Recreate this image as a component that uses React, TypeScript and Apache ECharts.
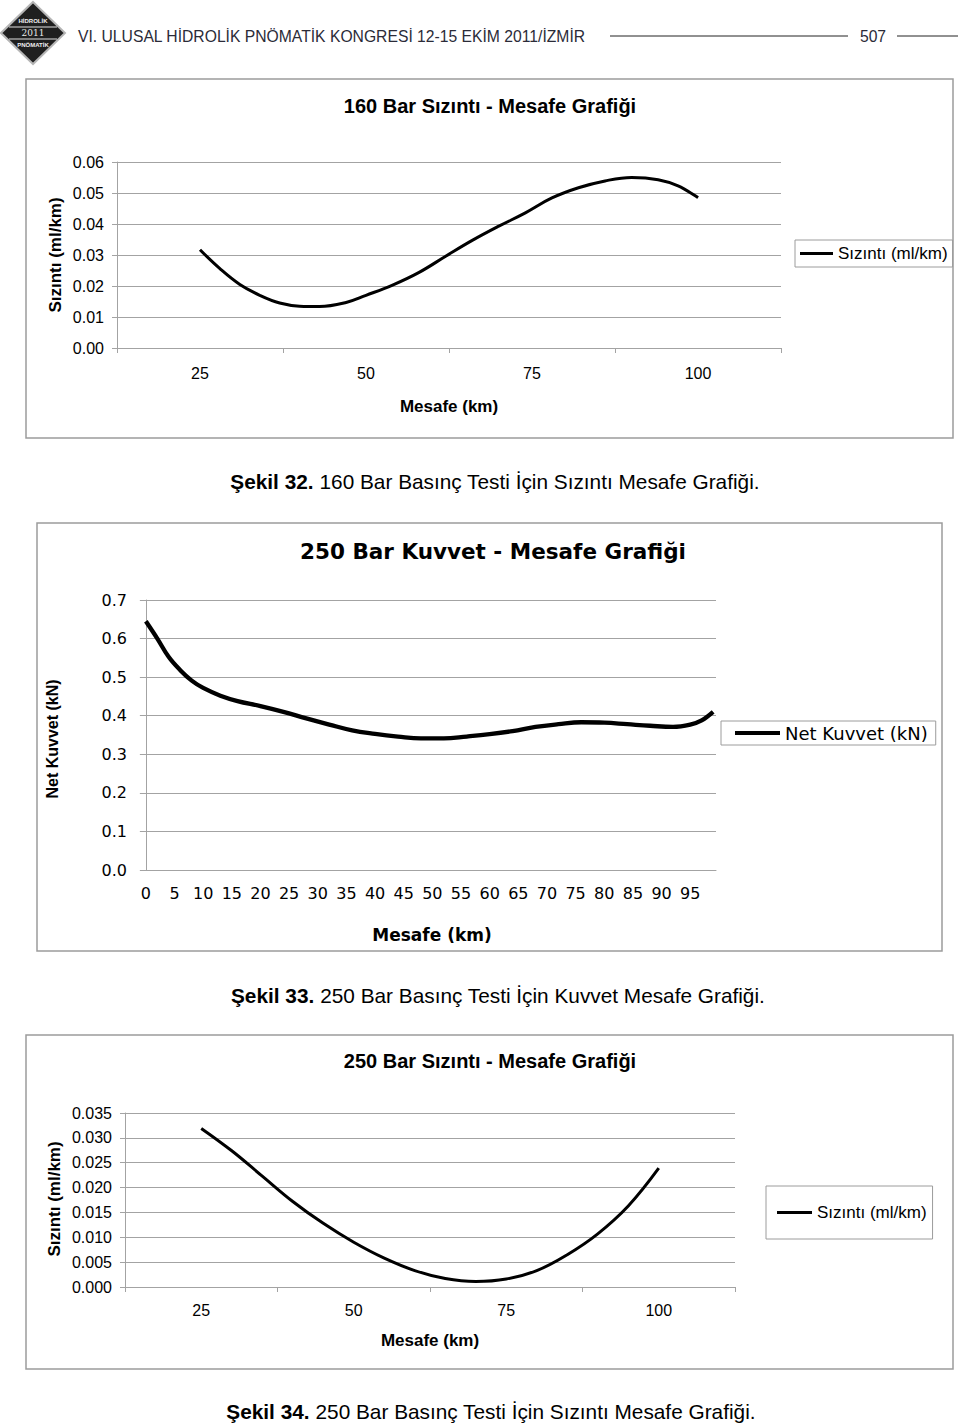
import { useEffect, useRef } from "react";
import * as echarts from "echarts";

// ---- Chart 1: 160 Bar Sızıntı - Mesafe ----
const mesafe160 = [25, 28, 31, 34, 37, 40, 43, 47, 50, 54, 58, 62, 66, 70, 74, 78, 82, 86, 90, 94, 97, 100];
const sizinti160 = [0.0317, 0.0256, 0.0205, 0.017, 0.0145, 0.0135, 0.0134, 0.0147, 0.017, 0.0203, 0.0244, 0.0296, 0.0347, 0.0393, 0.0436, 0.0484, 0.0517, 0.0539, 0.055, 0.0543, 0.0523, 0.0485];
const sizintiLabels = [25, 50, 75, 100];
const sizintiTickBounds = [12.5, 37.5, 62.5, 87.5, 112.5];

// ---- Chart 2: 250 Bar Kuvvet - Mesafe ----
const mesafeKuvvet = [0, 2, 4, 6, 8, 10, 13, 16, 20, 24, 28, 32, 36, 40, 44, 48, 52, 56, 60, 64, 68, 72, 76, 80, 84, 88, 92, 95, 97, 99];
const netKuvvet = [0.645, 0.6, 0.552, 0.518, 0.491, 0.472, 0.452, 0.438, 0.425, 0.41, 0.393, 0.377, 0.362, 0.353, 0.346, 0.341, 0.341, 0.346, 0.352, 0.36, 0.371, 0.378, 0.383, 0.382, 0.378, 0.374, 0.371, 0.377, 0.388, 0.41];
const kuvvetLabels = [0, 5, 10, 15, 20, 25, 30, 35, 40, 45, 50, 55, 60, 65, 70, 75, 80, 85, 90, 95];

// ---- Chart 3: 250 Bar Sızıntı - Mesafe ----
const mesafe250 = [25, 30, 35, 40, 45, 50, 55, 60, 65, 70, 75, 80, 85, 90, 95, 100];
const sizinti250 = [0.0319, 0.0274, 0.0223, 0.0172, 0.0128, 0.009, 0.0058, 0.0033, 0.0017, 0.0011, 0.0016, 0.0033, 0.0065, 0.0107, 0.0163, 0.0239];

const SIZ = "Sızıntı (ml/km)";
const KUV = "Net Kuvvet (kN)";
const gray = "#a3a3a3";
const ARIAL = "Liberation Sans";
const DEJAVU = "DejaVu Sans";

function pairs(xs: number[], ys: number[]) {
  return xs.map((x, i) => [x, ys[i]]);
}

function valueXAxis(gridIndex: number, min: number, max: number, labels: number[], ticks: number[] | null, margin: number, font: string) {
  return {
    gridIndex,
    type: "value",
    min,
    max,
    axisLine: { show: true, onZero: false, lineStyle: { color: gray, width: 1 } },
    axisTick: ticks
      ? { show: true, customValues: ticks, length: 5, inside: false, lineStyle: { color: gray } }
      : { show: false },
    axisLabel: { customValues: labels, margin, color: "#000", fontSize: 16, fontFamily: font },
    splitLine: { show: false },
  };
}

function valueYAxis(gridIndex: number, max: number, interval: number, digits: number, margin: number, font: string, tickLen: number) {
  return {
    gridIndex,
    type: "value",
    min: 0,
    max,
    interval,
    axisLine: { show: true, lineStyle: { color: gray, width: 1 } },
    axisTick: { show: true, length: tickLen, lineStyle: { color: gray } },
    axisLabel: {
      margin,
      color: "#000",
      fontSize: 16,
      fontFamily: font,
      formatter: (v: number) => v.toFixed(digits),
    },
    splitLine: { show: true, lineStyle: { color: gray, width: 1 } },
  };
}

function txt(x: number, y: number, text: string, size: number, weight: string, family: string, opts: any = {}) {
  return {
    type: "text",
    x,
    y,
    rotation: opts.rotation || 0,
    style: {
      text,
      fill: opts.fill || "#000",
      fontSize: size,
      fontWeight: weight,
      fontFamily: family,
      align: opts.align || "center",
      verticalAlign: "middle",
      rich: opts.rich,
    },
  };
}

export default function App() {
  const ref = useRef<HTMLDivElement>(null);

  useEffect(() => {
    document.body.style.margin = "0";
    if (!ref.current) return;
    const chart = echarts.init(ref.current, undefined, { renderer: "svg" });

    const box = (x: number, y: number, w: number, h: number) => ({
      type: "rect",
      shape: { x, y, width: w, height: h },
      style: { fill: "none", stroke: "#9c9c9c", lineWidth: 1.5 },
      silent: true,
    });

    const capRich = { b: { fontWeight: "bold", fontSize: 20.8, fontFamily: ARIAL, fill: "#000" } };

    const option: any = {
      animation: false,
      backgroundColor: "#ffffff",
      grid: [
        { left: 117, top: 162, width: 664, height: 186 },
        { left: 143, top: 600, width: 573, height: 270 },
        { left: 125, top: 1113, width: 610, height: 174 },
      ],
      xAxis: [
        valueXAxis(0, 12.5, 112.5, sizintiLabels, sizintiTickBounds, 17, ARIAL),
        valueXAxis(1, -0.5, 99.5, kuvvetLabels, null, 15, DEJAVU),
        valueXAxis(2, 12.5, 112.5, sizintiLabels, sizintiTickBounds, 15, ARIAL),
      ],
      yAxis: [
        valueYAxis(0, 0.06, 0.01, 2, 13, ARIAL, 5),
        valueYAxis(1, 0.7, 0.1, 1, 16, DEJAVU, 6),
        valueYAxis(2, 0.035, 0.005, 3, 13, ARIAL, 5),
      ],
      legend: [
        {
          data: [SIZ],
          icon: "rect",
          left: 795,
          top: 240,
          borderColor: "#9c9c9c",
          borderWidth: 1,
          padding: [5, 5, 5, 5],
          itemWidth: 33,
          itemHeight: 3,
          selectedMode: false,
          textStyle: { fontSize: 17, fontFamily: ARIAL, color: "#000" },
        },
        {
          data: [KUV],
          icon: "rect",
          left: 721,
          top: 721,
          borderColor: "#9c9c9c",
          borderWidth: 1,
          padding: [3, 8, 3, 14],
          itemWidth: 45,
          itemHeight: 4,
          selectedMode: false,
          textStyle: { fontSize: 18, fontFamily: DEJAVU, color: "#000" },
        },
        {
          data: [SIZ],
          icon: "rect",
          left: 766,
          top: 1186,
          borderColor: "#9c9c9c",
          borderWidth: 1,
          padding: [18, 6, 18, 11],
          itemWidth: 35,
          itemHeight: 3,
          selectedMode: false,
          textStyle: { fontSize: 17, fontFamily: ARIAL, color: "#000" },
        },
      ],
      series: [
        {
          name: SIZ,
          type: "line",
          xAxisIndex: 0,
          yAxisIndex: 0,
          data: pairs(mesafe160, sizinti160),
          smooth: 0.4,
          symbol: "none",
          lineStyle: { color: "#000", width: 3 },
          itemStyle: { color: "#000" },
        },
        {
          name: KUV,
          type: "line",
          xAxisIndex: 1,
          yAxisIndex: 1,
          data: pairs(mesafeKuvvet, netKuvvet),
          smooth: 0.4,
          symbol: "none",
          lineStyle: { color: "#000", width: 4.3 },
          itemStyle: { color: "#000" },
        },
        {
          name: SIZ,
          type: "line",
          xAxisIndex: 2,
          yAxisIndex: 2,
          data: pairs(mesafe250, sizinti250),
          smooth: 0.4,
          symbol: "none",
          lineStyle: { color: "#000", width: 3 },
          itemStyle: { color: "#000" },
        },
      ],
      graphic: [
        // header logo
        {
          type: "polygon",
          shape: { points: [[33, 2], [65, 33], [33, 64], [1, 33]] },
          style: { fill: "#1f1f1f", stroke: "#b5b5b5", lineWidth: 2 },
          silent: true,
        },
        { type: "line", shape: { x1: 9, y1: 27, x2: 57, y2: 27 }, style: { stroke: "#e0e0e0", lineWidth: 1 } },
        { type: "line", shape: { x1: 9, y1: 39, x2: 57, y2: 39 }, style: { stroke: "#e0e0e0", lineWidth: 1 } },
        txt(33, 21, "HİDROLİK", 6, "bold", ARIAL, { fill: "#f0f0f0" }),
        txt(33, 33, "2011", 9, "normal", "DejaVu Serif", { fill: "#e8e8e8" }),
        txt(33, 45, "PNÖMATİK", 6, "bold", ARIAL, { fill: "#f0f0f0" }),
        // header text and rules
        txt(78, 36, "VI. ULUSAL HİDROLİK PNÖMATİK KONGRESİ 12-15 EKİM 2011/İZMİR", 15.7, "normal", ARIAL, { align: "left", fill: "#2b2b38" }),
        { type: "line", shape: { x1: 610, y1: 36, x2: 848, y2: 36 }, style: { stroke: "#222", lineWidth: 1 } },
        txt(873, 36, "507", 15.7, "normal", ARIAL, { fill: "#2b2b38" }),
        { type: "line", shape: { x1: 897, y1: 36, x2: 958, y2: 36 }, style: { stroke: "#222", lineWidth: 1 } },

        // chart 1
        box(26, 79, 927, 359),
        txt(490, 106, "160 Bar Sızıntı - Mesafe Grafiği", 20, "bold", ARIAL),
        txt(55, 255, SIZ, 17, "bold", ARIAL, { rotation: Math.PI / 2 }),
        txt(449, 406, "Mesafe (km)", 17, "bold", ARIAL),
        txt(495, 481, "{b|Şekil 32.} 160 Bar Basınç Testi İçin Sızıntı Mesafe Grafiği.", 20.8, "normal", ARIAL, { rich: capRich }),

        // chart 2
        box(37, 523, 905, 428),
        txt(493, 551, "250 Bar Kuvvet - Mesafe Grafiği", 21.5, "bold", DEJAVU),
        txt(52, 739, KUV, 16, "bold", ARIAL, { rotation: Math.PI / 2 }),
        txt(432, 935, "Mesafe (km)", 17, "bold", DEJAVU),
        txt(498, 995, "{b|Şekil 33.} 250 Bar Basınç Testi İçin Kuvvet Mesafe Grafiği.", 20.8, "normal", ARIAL, { rich: capRich }),

        // chart 3
        box(26, 1035, 927, 334),
        txt(490, 1061, "250 Bar Sızıntı - Mesafe Grafiği", 20, "bold", ARIAL),
        txt(54, 1199, SIZ, 17, "bold", ARIAL, { rotation: Math.PI / 2 }),
        txt(430, 1340, "Mesafe (km)", 17, "bold", ARIAL),
        txt(491, 1411, "{b|Şekil 34.} 250 Bar Basınç Testi İçin Sızıntı Mesafe Grafiği.", 20.8, "normal", ARIAL, { rich: capRich }),
      ],
    };

    chart.setOption(option);
    return () => chart.dispose();
  }, []);

  return (
    <div
      ref={ref}
      style={{ position: "absolute", left: 0, top: 0, width: 960, height: 1426, background: "#fff" }}
    />
  );
}
